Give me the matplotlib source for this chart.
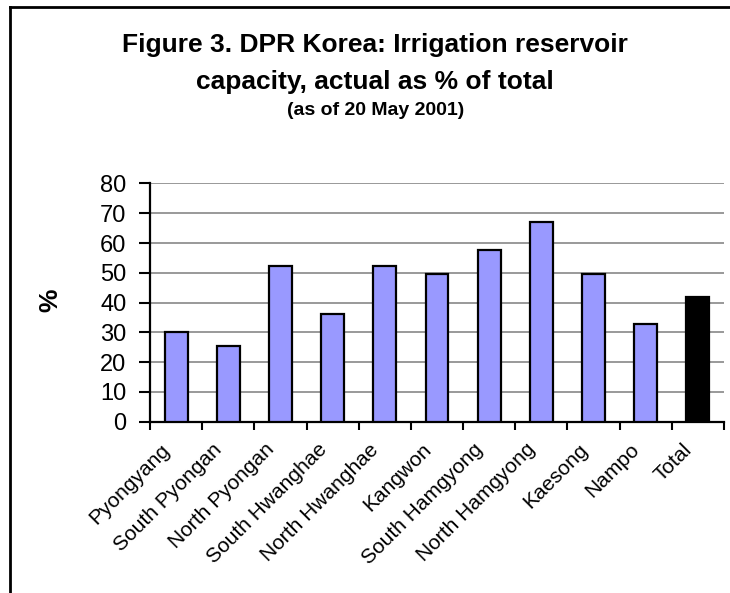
import numpy as np
import matplotlib.pyplot as plt
import matplotlib.transforms as mtransforms
from matplotlib.lines import Line2D

plt.rcParams['font.family'] = ['Liberation Sans', 'DejaVu Sans']

provinces = ["Pyongyang", "South Pyongan", "North Pyongan", "South Hwanghae",
             "North Hwanghae", "Kangwon", "South Hamgyong", "North Hamgyong",
             "Kaesong", "Nampo", "Total"]
capacity_pct = [30.2, 25.5, 52.4, 36.3, 52.3, 49.6, 57.8, 67.2, 49.6, 32.9, 41.8]
bar_colors = ["#9999ff"] * 10 + ["#000000"]
y_ticks = [0, 10, 20, 30, 40, 50, 60, 70, 80]

fig = plt.figure(figsize=(7.3, 5.93), dpi=100)
ax = fig.add_axes([0.2055, 0.2889, 0.7863, 0.4017])

x = np.arange(len(provinces)) + 0.5
ax.bar(x, capacity_pct, width=0.44, color=bar_colors, edgecolor="black",
       linewidth=1.6, zorder=3)

ax.set_xlim(0, len(provinces))
ax.set_ylim(0, 80)
ax.set_yticks(y_ticks)
ax.yaxis.grid(True, color="#999999", linewidth=1.4, zorder=0)
ax.set_axisbelow(True)

# ticks sit between categories, labels are placed by hand below
ax.set_xticks(np.arange(len(provinces) + 1))
ax.set_xticklabels([])
ax.tick_params(axis="x", direction="out", length=6, width=1.5)
ax.tick_params(axis="y", direction="out", length=8, width=1.5, labelsize=17, pad=9)

lbl_trans = ax.get_xaxis_transform() + mtransforms.ScaledTranslation(
    -9 / 100, -25 / 100, fig.dpi_scale_trans)
for xi, name in zip(x, provinces):
    ax.text(xi, 0, name, transform=lbl_trans, rotation=45, ha="right",
            va="center", rotation_mode="anchor", fontsize=15)

for side in ["top", "right"]:
    ax.spines[side].set_visible(False)
for side in ["left", "bottom"]:
    ax.spines[side].set_linewidth(1.6)

fig.text(50 / 730, 0.494, "%", rotation=90, ha="center", va="center",
         fontsize=19, fontweight="bold")

fig.text(0.514, 0.912, "Figure 3. DPR Korea: Irrigation reservoir",
         ha="center", va="baseline", fontsize=19, fontweight="bold")
fig.text(0.514, 0.850, "capacity, actual as % of total",
         ha="center", va="baseline", fontsize=19, fontweight="bold")
fig.text(0.514, 0.806, "(as of 20 May 2001)",
         ha="center", va="baseline", fontsize=14, fontweight="bold")

# partial chart-area border (left and top edges)
fig.add_artist(Line2D([0.0137, 0.0137], [0.0, 0.988], transform=fig.transFigure,
                      color="black", linewidth=2))
fig.add_artist(Line2D([0.0137, 1.0], [0.988, 0.988], transform=fig.transFigure,
                      color="black", linewidth=2))

fig.savefig("out.png", dpi=100)
